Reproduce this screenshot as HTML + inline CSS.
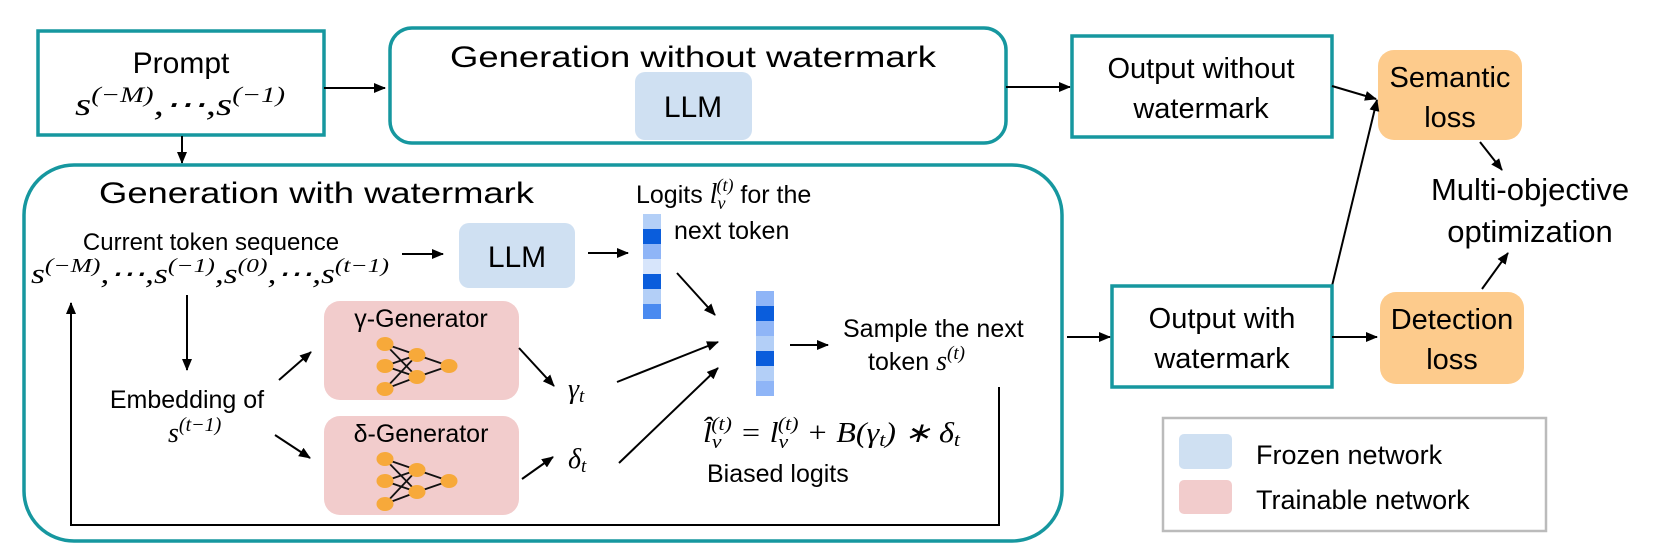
<!DOCTYPE html>
<html><head><meta charset="utf-8"><style>
html,body{margin:0;padding:0;background:#fff;}
svg{display:block;}
text{font-family:"Liberation Sans",sans-serif;fill:#000;}
.m{font-family:"Liberation Serif",serif;font-style:italic;}
</style></head><body>
<svg width="1661" height="560" viewBox="0 0 1661 560" xmlns="http://www.w3.org/2000/svg">
<defs>
<marker id="a" viewBox="0 0 12 10" refX="11" refY="5" markerWidth="12" markerHeight="10" markerUnits="userSpaceOnUse" orient="auto">
<path d="M0,0 L12,5 L0,10 z" fill="#000"/></marker>
<g id="net">
<g stroke="#111" stroke-width="1.8">
<line x1="385" y1="344" x2="417" y2="355"/><line x1="385" y1="344" x2="417" y2="377"/>
<line x1="385" y1="366" x2="417" y2="355"/><line x1="385" y1="366" x2="417" y2="377"/>
<line x1="385" y1="389" x2="417" y2="355"/><line x1="385" y1="389" x2="417" y2="377"/>
<line x1="417" y1="355" x2="449" y2="366"/><line x1="417" y1="377" x2="449" y2="366"/>
</g>
<g fill="#f7a93a">
<ellipse cx="385" cy="344" rx="8.5" ry="7"/><ellipse cx="385" cy="366" rx="8.5" ry="7"/><ellipse cx="385" cy="389" rx="8.5" ry="7"/>
<ellipse cx="417" cy="355" rx="8.5" ry="7"/><ellipse cx="417" cy="377" rx="8.5" ry="7"/><ellipse cx="449" cy="366" rx="8.5" ry="7"/>
</g></g>
</defs>

<!-- Prompt -->
<rect x="38" y="31" width="286" height="104" fill="#fff" stroke="#16979f" stroke-width="3.5"/>
<text x="181" y="73" font-size="30" text-anchor="middle">Prompt</text>
<text x="75" y="115" font-size="32" class="m" textLength="210" lengthAdjust="spacingAndGlyphs">s<tspan font-size="22" dy="-13">(−M)</tspan><tspan dy="13">,⋯,s</tspan><tspan font-size="22" dy="-13">(−1)</tspan></text>
<line x1="324" y1="88" x2="385" y2="88" stroke="#000" stroke-width="2" marker-end="url(#a)"/>
<line x1="182" y1="136" x2="182" y2="163" stroke="#000" stroke-width="2" marker-end="url(#a)"/>

<!-- Generation without -->
<rect x="390" y="28" width="616" height="115" rx="22" fill="#fff" stroke="#16979f" stroke-width="3.5"/>
<text x="450" y="67" font-size="30" textLength="486" lengthAdjust="spacingAndGlyphs">Generation without watermark</text>
<rect x="635" y="72" width="117" height="68" rx="10" fill="#cfe0f2"/>
<text x="693" y="117" font-size="30" text-anchor="middle">LLM</text>
<line x1="1006" y1="87" x2="1070" y2="87" stroke="#000" stroke-width="2" marker-end="url(#a)"/>

<!-- Output without -->
<rect x="1072" y="36" width="260" height="101" fill="#fff" stroke="#16979f" stroke-width="3.5"/>
<text x="1201" y="78" font-size="29" text-anchor="middle">Output without</text>
<text x="1201" y="118" font-size="29" text-anchor="middle">watermark</text>

<!-- Semantic loss -->
<rect x="1378" y="50" width="144" height="90" rx="16" fill="#fdcb8c"/>
<text x="1450" y="87" font-size="29" text-anchor="middle">Semantic</text>
<text x="1450" y="127" font-size="29" text-anchor="middle">loss</text>
<line x1="1332" y1="86" x2="1376" y2="99" stroke="#000" stroke-width="2" marker-end="url(#a)"/>
<line x1="1332" y1="286" x2="1377" y2="100" stroke="#000" stroke-width="2" marker-end="url(#a)"/>

<!-- Multi-objective -->
<text x="1530" y="200" font-size="31" text-anchor="middle">Multi-objective</text>
<text x="1530" y="242" font-size="31" text-anchor="middle">optimization</text>
<line x1="1480" y1="142" x2="1502" y2="170" stroke="#000" stroke-width="2" marker-end="url(#a)"/>
<line x1="1482" y1="289" x2="1508" y2="253" stroke="#000" stroke-width="2" marker-end="url(#a)"/>

<!-- Output with -->
<rect x="1112" y="286" width="220" height="101" fill="#fff" stroke="#16979f" stroke-width="3.5"/>
<text x="1222" y="328" font-size="29" text-anchor="middle">Output with</text>
<text x="1222" y="368" font-size="29" text-anchor="middle">watermark</text>
<line x1="1332" y1="337" x2="1377" y2="337" stroke="#000" stroke-width="2" marker-end="url(#a)"/>

<!-- Detection loss -->
<rect x="1380" y="292" width="144" height="92" rx="16" fill="#fdcb8c"/>
<text x="1452" y="329" font-size="29" text-anchor="middle">Detection</text>
<text x="1452" y="369" font-size="29" text-anchor="middle">loss</text>

<!-- Legend -->
<rect x="1163" y="418" width="383" height="113" fill="#fff" stroke="#bbb" stroke-width="2.5"/>
<rect x="1179" y="434" width="53" height="35" rx="5" fill="#cfe0f2"/>
<rect x="1179" y="480" width="53" height="34" rx="5" fill="#f2cccc"/>
<text x="1256" y="464" font-size="27">Frozen network</text>
<text x="1256" y="509" font-size="27">Trainable network</text>

<!-- Generation with -->
<rect x="24" y="165" width="1038" height="376" rx="50" fill="none" stroke="#16979f" stroke-width="3.5"/>
<text x="99" y="203" font-size="30" textLength="435" lengthAdjust="spacingAndGlyphs">Generation with watermark</text>
<text x="211" y="250" font-size="24" text-anchor="middle">Current token sequence</text>
<text x="31" y="283" font-size="28" class="m" textLength="358" lengthAdjust="spacingAndGlyphs">s<tspan font-size="20" dy="-11">(−M)</tspan><tspan dy="11">,⋯,s</tspan><tspan font-size="20" dy="-11">(−1)</tspan><tspan dy="11">,s</tspan><tspan font-size="20" dy="-11">(0)</tspan><tspan dy="11">,⋯,s</tspan><tspan font-size="20" dy="-11">(t−1)</tspan></text>
<line x1="402" y1="254" x2="443" y2="254" stroke="#000" stroke-width="2" marker-end="url(#a)"/>
<rect x="459" y="223" width="116" height="65" rx="10" fill="#cfe0f2"/>
<text x="517" y="267" font-size="30" text-anchor="middle">LLM</text>
<line x1="588" y1="253" x2="628" y2="253" stroke="#000" stroke-width="2" marker-end="url(#a)"/>

<!-- logits col 1 -->
<rect x="643" y="214" width="18" height="15" fill="#b3cff7"/>
<rect x="643" y="229" width="18" height="15" fill="#0a5ddc"/>
<rect x="643" y="244" width="18" height="15" fill="#8fb5f7"/>
<rect x="643" y="259" width="18" height="15" fill="#d7e5fb"/>
<rect x="643" y="274" width="18" height="15" fill="#0a5ddc"/>
<rect x="643" y="289" width="18" height="15" fill="#b3cff7"/>
<rect x="643" y="304" width="18" height="15" fill="#4a8af0"/>
<text x="636" y="203" font-size="25">Logits <tspan class="m" font-size="28">l</tspan><tspan class="m" font-size="18" dy="6">v</tspan><tspan class="m" font-size="18" dx="-9" dy="-18">(t)</tspan><tspan dy="12"> for the</tspan></text>
<text x="674" y="239" font-size="25">next token</text>
<line x1="677" y1="273" x2="715" y2="315" stroke="#000" stroke-width="2" marker-end="url(#a)"/>

<!-- logits col 2 -->
<rect x="756" y="291" width="18" height="15" fill="#8fb5f7"/>
<rect x="756" y="306" width="18" height="15" fill="#0a5ddc"/>
<rect x="756" y="321" width="18" height="15" fill="#8fb5f7"/>
<rect x="756" y="336" width="18" height="15" fill="#b3cff7"/>
<rect x="756" y="351" width="18" height="15" fill="#0a5ddc"/>
<rect x="756" y="366" width="18" height="15" fill="#b3cff7"/>
<rect x="756" y="381" width="18" height="15" fill="#8fb5f7"/>
<line x1="790" y1="345" x2="828" y2="345" stroke="#000" stroke-width="2" marker-end="url(#a)"/>
<text x="843" y="337" font-size="25">Sample the next</text>
<text x="868" y="370" font-size="25">token <tspan class="m" font-size="28">s</tspan><tspan class="m" font-size="19" dy="-11">(t)</tspan></text>

<!-- generators -->
<rect x="324" y="301" width="195" height="99" rx="16" fill="#f2cccc"/>
<text x="421" y="327" font-size="25" text-anchor="middle">γ-Generator</text>
<use href="#net"/>
<rect x="324" y="416" width="195" height="99" rx="16" fill="#f2cccc"/>
<text x="421" y="442" font-size="25" text-anchor="middle">δ-Generator</text>
<use href="#net" transform="translate(0,115)"/>

<line x1="187" y1="295" x2="187" y2="370" stroke="#000" stroke-width="2" marker-end="url(#a)"/>
<text x="187" y="408" font-size="25" text-anchor="middle">Embedding of</text>
<text x="168" y="442" font-size="28" class="m">s<tspan font-size="20" dy="-11">(t−1)</tspan></text>
<line x1="279" y1="380" x2="311" y2="352" stroke="#000" stroke-width="2" marker-end="url(#a)"/>
<line x1="275" y1="435" x2="310" y2="458" stroke="#000" stroke-width="2" marker-end="url(#a)"/>
<line x1="519" y1="348" x2="554" y2="386" stroke="#000" stroke-width="2" marker-end="url(#a)"/>
<line x1="522" y1="479" x2="553" y2="457" stroke="#000" stroke-width="2" marker-end="url(#a)"/>
<text x="568" y="398" font-size="28" class="m">γ<tspan font-size="19" dy="4">t</tspan></text>
<text x="568" y="468" font-size="28" class="m">δ<tspan font-size="19" dy="4">t</tspan></text>
<line x1="617" y1="382" x2="718" y2="342" stroke="#000" stroke-width="2" marker-end="url(#a)"/>
<line x1="619" y1="463" x2="718" y2="368" stroke="#000" stroke-width="2" marker-end="url(#a)"/>

<text x="703" y="442" font-size="28" class="m" textLength="257" lengthAdjust="spacingAndGlyphs">l̂<tspan font-size="19" dy="6">v</tspan><tspan font-size="19" dx="-9" dy="-18">(t)</tspan><tspan dy="12"> = l</tspan><tspan font-size="19" dy="6">v</tspan><tspan font-size="19" dx="-9" dy="-18">(t)</tspan><tspan dy="12"> + B(γ</tspan><tspan font-size="19" dy="4">t</tspan><tspan dy="-4">) ∗ δ</tspan><tspan font-size="19" dy="4">t</tspan></text>
<text x="707" y="482" font-size="25">Biased logits</text>

<!-- feedback loop -->
<polyline points="999,387 999,525 71,525 71,303" fill="none" stroke="#000" stroke-width="2" marker-end="url(#a)"/>
<line x1="1067" y1="337" x2="1110" y2="337" stroke="#000" stroke-width="2" marker-end="url(#a)"/>
</svg>
</body></html>
